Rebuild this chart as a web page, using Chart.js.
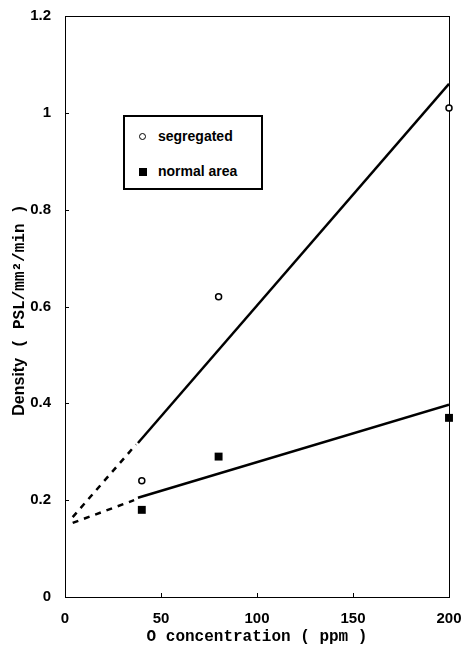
<!DOCTYPE html>
<html lang="en">
  <head>
    <meta charset="UTF-8" />
    <title>Density vs O concentration</title>
    <script src="https://cdn.jsdelivr.net/npm/chart.js"></script>
    <style>
      body {
        margin: 0;
        background: #fff;
      }
      .wrap {
        position: relative;
        width: 463px;
        height: 653px;
      }
      .legend {
        position: absolute;
        left: 123px;
        top: 115px;
        width: 136px;
        height: 71px;
        border: 2px solid #000;
        background: #fff;
        font-family: "Liberation Sans", Arial, sans-serif;
        font-weight: bold;
        font-size: 14px;
        color: #000;
      }
      .legend .row {
        position: absolute;
        left: 14px;
        height: 16px;
        line-height: 16px;
      }
      .legend .circle {
        display: inline-block;
        width: 5px;
        height: 5px;
        border: 1.5px solid #000;
        border-radius: 50%;
        margin-right: 12px;
        vertical-align: 1px;
      }
      .legend .square {
        display: inline-block;
        width: 8px;
        height: 8px;
        background: #000;
        margin-right: 11px;
        vertical-align: 0px;
      }
    </style>
  </head>
  <body>
    <div class="wrap">
      <canvas id="chart" width="463" height="653"></canvas>
      <div class="legend">
        <div class="row" style="top: 11px"><span class="circle"></span>segregated</div>
        <div class="row" style="top: 46px"><span class="square"></span>normal area</div>
      </div>
    </div>

    <script>
      // measured points
      const concX = [40, 80, 200];
      const segregated = [0.24, 0.62, 1.01];
      const normalArea = [0.18, 0.29, 0.37];

      // fitted lines (solid part) and their dashed extrapolation
      const segFitX = [38, 200];
      const segFitY = [0.318, 1.06];
      const segDashX = [4, 37];
      const segDashY = [0.165, 0.315];
      const normFitX = [38, 200];
      const normFitY = [0.205, 0.397];
      const normDashX = [4, 36];
      const normDashY = [0.153, 0.2];

      const xTicks = [0, 50, 100, 150, 200];
      const yTicks = [0, 0.2, 0.4, 0.6, 0.8, 1, 1.2];

      const pts = (xs, ys) => xs.map((x, i) => ({ x: x, y: ys[i] }));

      const tickFont = { family: "'Liberation Sans', Arial, sans-serif", size: 15, weight: "bold" };
      const titleFont = { family: "'Liberation Mono', 'Courier New', monospace", size: 16, weight: "bold" };

      // frame round the plot, short inward tick marks, and the y title
      const framePlugin = {
        id: "frame",
        beforeDatasetsDraw(chart) {
          const { ctx, chartArea: a, scales } = chart;
          ctx.save();
          ctx.strokeStyle = "#000";
          ctx.lineWidth = 1;
          ctx.strokeRect(a.left + 0.5, a.top + 0.5, a.right - a.left, a.bottom - a.top);
          ctx.beginPath();
          xTicks.forEach((v) => {
            const px = Math.round(scales.x.getPixelForValue(v)) + 0.5;
            ctx.moveTo(px, a.bottom);
            ctx.lineTo(px, a.bottom - 4);
          });
          yTicks.forEach((v) => {
            const py = Math.round(scales.y.getPixelForValue(v)) + 0.5;
            ctx.moveTo(a.left, py);
            ctx.lineTo(a.left + 4, py);
          });
          ctx.stroke();

          // y title: "Density" in sans, the unit part in the mono face
          const part1 = "Density";
          const part2 = " ( PSL/mm\u00B2/min )";
          const f1 = "bold 16px 'Liberation Sans', Arial, sans-serif";
          const f2 = "bold 16px 'Liberation Mono', 'Courier New', monospace";
          ctx.font = f1;
          const w1 = ctx.measureText(part1).width;
          ctx.font = f2;
          const w2 = ctx.measureText(part2).width;
          const cy = 310;
          ctx.translate(20, cy);
          ctx.rotate(-Math.PI / 2);
          ctx.fillStyle = "#000";
          ctx.textBaseline = "middle";
          ctx.textAlign = "left";
          const start = -(w1 + w2) / 2;
          ctx.font = f1;
          ctx.fillText(part1, start, 0);
          ctx.font = f2;
          ctx.fillText(part2, start + w1, 0);
          ctx.restore();
        },
      };

      const lineDs = (data, dash) => ({
        type: "scatter",
        data: data,
        showLine: true,
        borderColor: "#000",
        borderWidth: 2.5,
        borderDash: dash,
        pointRadius: 0,
        fill: false,
      });

      const fmt = (v) => String(+Number(v).toFixed(2));

      new Chart(document.getElementById("chart"), {
        type: "scatter",
        data: {
          datasets: [
            lineDs(pts(segFitX, segFitY), []),
            lineDs(pts(segDashX, segDashY), [6, 6]),
            lineDs(pts(normFitX, normFitY), []),
            lineDs(pts(normDashX, normDashY), [6, 6]),
            {
              label: "segregated",
              data: pts(concX, segregated),
              pointStyle: "circle",
              pointRadius: 3,
              borderWidth: 1.5,
              borderColor: "#000",
              backgroundColor: "#fff",
              clip: false,
            },
            {
              label: "normal area",
              data: pts(concX, normalArea),
              pointStyle: "rect",
              pointRadius: 5.6,
              borderWidth: 0,
              borderColor: "#000",
              backgroundColor: "#000",
              clip: false,
            },
          ],
        },
        options: {
          responsive: false,
          animation: false,
          layout: { padding: 0 },
          plugins: {
            legend: { display: false },
            tooltip: { enabled: false },
          },
          scales: {
            x: {
              type: "linear",
              min: 0,
              max: 200,
              afterBuildTicks: (s) => {
                s.ticks = xTicks.map((v) => ({ value: v }));
              },
              afterFit: (s) => {
                s.height = 56;
                s.paddingLeft = 0;
                s.paddingRight = 14;
              },
              grid: { display: false, drawTicks: false },
              border: { display: false },
              ticks: { color: "#000", font: tickFont, padding: 13, maxRotation: 0, callback: fmt },
              title: {
                display: true,
                text: "O concentration ( ppm )",
                color: "#000",
                font: titleFont,
                padding: { top: 0, bottom: 6 },
              },
            },
            y: {
              type: "linear",
              min: 0,
              max: 1.2,
              afterBuildTicks: (s) => {
                s.ticks = yTicks.map((v) => ({ value: v }));
              },
              afterFit: (s) => {
                s.width = 65;
                s.paddingTop = 16;
                s.paddingBottom = 0;
              },
              grid: { display: false, drawTicks: false },
              border: { display: false },
              ticks: { color: "#000", font: tickFont, padding: 14, callback: fmt },
            },
          },
        },
        plugins: [framePlugin],
      });
    </script>
  </body>
</html>
